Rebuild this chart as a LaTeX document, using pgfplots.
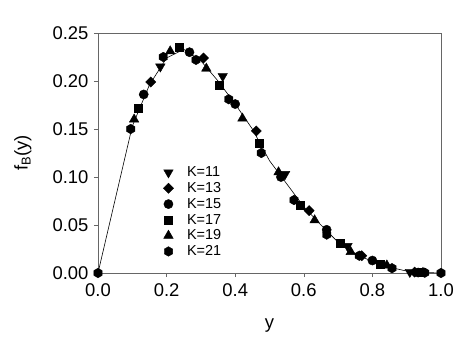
\documentclass[border=0pt]{standalone}
\usepackage{fontspec}
\setmainfont{Liberation Sans}
\usepackage{pgfplots}
\pgfplotsset{compat=1.18}

% filled hexagon, pointy top
\pgfdeclareplotmark{hexagon*}{%
  \pgfpathmoveto{\pgfqpointpolar{90}{\pgfplotmarksize}}%
  \pgfpathlineto{\pgfqpointpolar{150}{\pgfplotmarksize}}%
  \pgfpathlineto{\pgfqpointpolar{210}{\pgfplotmarksize}}%
  \pgfpathlineto{\pgfqpointpolar{270}{\pgfplotmarksize}}%
  \pgfpathlineto{\pgfqpointpolar{330}{\pgfplotmarksize}}%
  \pgfpathlineto{\pgfqpointpolar{30}{\pgfplotmarksize}}%
  \pgfpathclose
  \pgfusepathqfillstroke}

% legend entry: one mark, then a gap before the text
\pgfplotsset{lgm/.style={legend image code/.code={%
  \draw[##1] plot coordinates {(0cm,0cm)};
  \path (-0.2cm,0cm) (0.58cm,0cm);}}}

\begin{document}
\begin{tikzpicture}
\begin{axis}[
  scale only axis,
  width=343bp, height=240bp,
  xmin=0, xmax=1, ymin=0, ymax=0.25,
  clip=false,
  xtick={0,0.2,0.4,0.6,0.8,1},
  ytick={0,0.05,0.1,0.15,0.2,0.25},
  /pgf/number format/assume math mode=true,
  xticklabel style={font=\fontsize{18.5}{20}\selectfont, /pgf/number format/fixed, /pgf/number format/fixed zerofill, /pgf/number format/precision=1, yshift=-3bp},
  yticklabel style={font=\fontsize{18.5}{20}\selectfont, /pgf/number format/fixed, /pgf/number format/fixed zerofill, /pgf/number format/precision=2, xshift=-2bp},
  tick align=outside,
  xtick pos=bottom, ytick pos=left,
  major tick length=4bp,
  axis line style={black!60},
  tick style={black!60, line width=0.6bp},
  xlabel={y},
  ylabel={f\textsubscript{B}(y)},
  xlabel style={font=\fontsize{18.5}{20}\selectfont, at={(axis description cs:0.5,-0.217)}, anchor=center},
  ylabel style={font=\fontsize{18.5}{20}\selectfont, at={(axis description cs:-0.219,0.5)}, anchor=center},
  legend style={at={(axis cs:0.179,0.115)}, anchor=north west, draw=none, fill=none,
    font=\fontsize{14.5}{16}\selectfont, row sep=0.3bp},
  legend cell align=left,
  every axis plot/.append style={black},
]
% connecting curve
\addplot[black, line width=0.6bp, forget plot] coordinates {
  (0,0) (0.1,0.153) (0.15,0.196) (0.2,0.224) (0.25,0.233) (0.3,0.221)
  (0.35,0.200) (0.4,0.176) (0.45,0.150) (0.5,0.117) (0.55,0.093)
  (0.6,0.069) (0.65,0.050) (0.7,0.032) (0.75,0.020) (0.8,0.012)
  (0.85,0.006) (0.9,0.002) (0.95,0.0005) (1,0)
};
% K=11
\addplot[only marks, lgm, mark=triangle*, mark size=5.5bp, mark options={rotate=180}] coordinates {
  (0.1818,0.215) (0.3636,0.205) (0.5455,0.103) (0.7273,0.028) (0.9091,0.001)
};
\addlegendentry{K=11}
% K=13
\addplot[only marks, lgm, mark=square*, mark size=3.6bp, mark options={rotate=45}] coordinates {
  (0.1538,0.199) (0.3077,0.224) (0.4615,0.148) (0.6154,0.065) (0.7692,0.018) (0.9231,0.001)
};
\addlegendentry{K=13}
% K=15
\addplot[only marks, lgm, mark=*, mark size=4.6bp] coordinates {
  (0.1333,0.186) (0.2667,0.230) (0.4,0.176) (0.5333,0.100) (0.6667,0.045) (0.8,0.013) (0.9333,0.0005)
};
\addlegendentry{K=15}
% K=17
\addplot[only marks, lgm, mark=square*, mark size=4bp] coordinates {
  (0.1176,0.172) (0.2353,0.235) (0.3529,0.196) (0.4706,0.135) (0.5882,0.071) (0.7059,0.031) (0.8235,0.009) (0.9412,0.0005)
};
\addlegendentry{K=17}
% K=19
\addplot[only marks, lgm, mark=triangle*, mark size=5.5bp] coordinates {
  (0.1053,0.160) (0.2105,0.231) (0.3158,0.213) (0.4211,0.161) (0.5263,0.105) (0.6316,0.055) (0.7368,0.022) (0.8421,0.008) (0.9474,0.0003)
};
\addlegendentry{K=19}
% K=21
\addplot[only marks, lgm, mark=hexagon*, mark size=4.8bp] coordinates {
  (0,0) (0.0952,0.150) (0.1905,0.225) (0.2857,0.222) (0.3810,0.181) (0.4762,0.125) (0.5714,0.076) (0.6667,0.040) (0.7619,0.018) (0.8571,0.005) (0.9524,0.0003) (1,0)
};
\addlegendentry{K=21}
\end{axis}
\pgfresetboundingbox
\path (current axis.south west) ++(-98bp,-79bp) coordinate (bl);
\path (current axis.north east) ++(30bp,33bp) coordinate (tr);
\path[use as bounding box] (bl) rectangle (tr);
\end{tikzpicture}
\end{document}
